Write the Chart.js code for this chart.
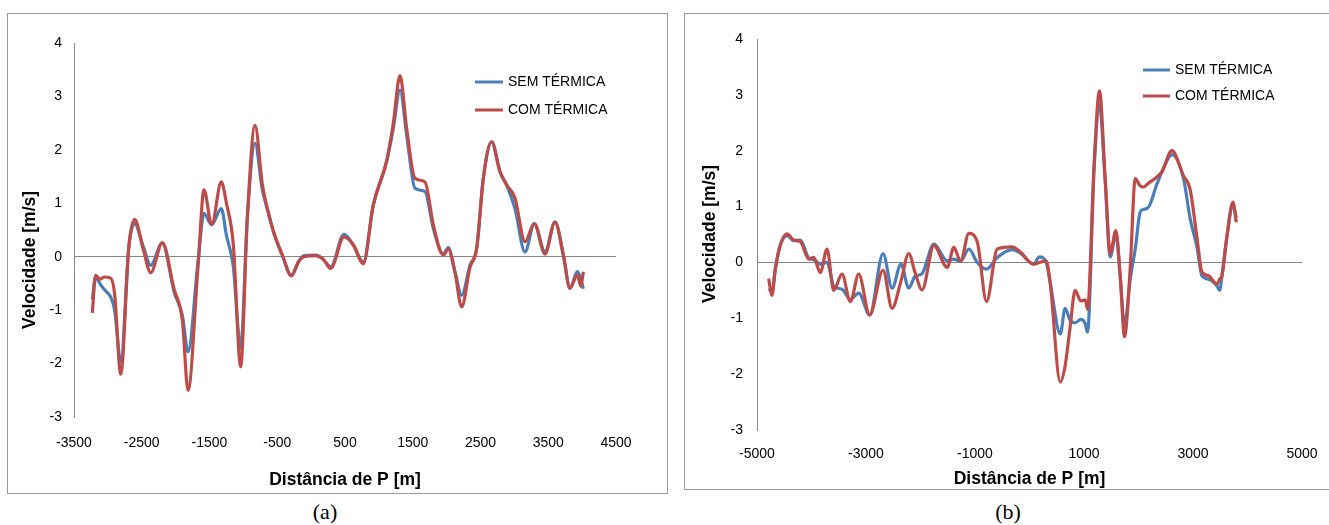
<!DOCTYPE html>
<html>
<head>
<meta charset="utf-8">
<script src="https://cdn.jsdelivr.net/npm/chart.js@4.4.0/dist/chart.umd.min.js"></script>
<style>
    body { margin: 0; background: #fff; width: 1329px; height: 525px; position: relative; overflow: hidden; }
    .box { position: absolute; border: 1px solid #9a9a9a; box-sizing: border-box; }
    canvas { position: absolute; }
    .cap { position: absolute; font-family: "Liberation Serif", "Times New Roman", serif; font-size: 22px; transform: translate(-50%, -50%); }
</style>
</head>
<body>
<div class="box" style="left:7px;top:13px;width:661px;height:481px"></div>
<div class="box" style="left:684px;top:13px;width:660px;height:477px"></div>
<canvas id="chartA" width="658" height="478" style="left:8px;top:14px"></canvas>
<canvas id="chartB" width="660" height="480" style="left:685px;top:14px"></canvas>
<div class="cap" style="left:325px;top:512px">(a)</div>
<div class="cap" style="left:1008px;top:512px">(b)</div>

<script>
const seriesNames = ['SEM TÉRMICA', 'COM TÉRMICA'];
const yTicks = [-3, -2, -1, 0, 1, 2, 3, 4];

// (a)
const xTicksA = [-3500, -2500, -1500, -500, 500, 1500, 2500, 3500, 4500];
const distA = [-3230, -3180, -3120, -3050, -2960, -2900, -2810, -2690, -2604, -2480, -2368, -2196, -2024, -1900, -1817,
    -1670, -1581, -1468, -1326, -1250, -1150, -1040, -942, -828, -720, -647, -548, -425, -292, -180, -105, 67, 180, 289,
    485, 623, 770, 918, 1115, 1213, 1312, 1410, 1533, 1681, 1803, 1951, 2025, 2124, 2222, 2345, 2444, 2542, 2665, 2788,
    2887, 3009, 3157, 3294, 3452, 3600, 3723, 3821, 3930, 3980, 4018];
const semA = [-0.80, -0.37, -0.50, -0.62, -0.75, -1.00, -1.97, 0.19, 0.62, 0.20, -0.16, 0.26, -0.65, -1.10, -1.78,
    -0.10, 0.81, 0.60, 0.90, 0.40, -0.17, -1.71, 0.72, 2.12, 1.25, 0.90, 0.44, 0.03, -0.34, -0.08, 0.02, 0.03, -0.05, -0.19,
    0.42, 0.22, -0.10, 0.97, 1.78, 2.40, 3.12, 2.28, 1.28, 1.22, 0.53, 0.05, 0.17, -0.28, -0.72, -0.16, 0.16, 1.47, 2.15, 1.59,
    1.34, 0.90, 0.09, 0.62, 0.09, 0.65, 0.03, -0.59, -0.28, -0.42, -0.60];
const comA = [-1.05, -0.35, -0.42, -0.38, -0.40, -0.70, -2.20, 0.20, 0.70, 0.15, -0.30, 0.26, -0.60, -1.20, -2.50,
    -0.20, 1.25, 0.60, 1.40, 1.00, 0.25, -2.06, 0.72, 2.46, 1.35, 0.90, 0.44, 0.03, -0.36, -0.08, 0.00, 0.02, -0.05, -0.22,
    0.37, 0.22, -0.13, 0.97, 1.80, 2.50, 3.39, 2.40, 1.47, 1.40, 0.60, 0.03, 0.14, -0.30, -0.94, -0.20, 0.16, 1.47, 2.15, 1.59,
    1.34, 1.10, 0.28, 0.62, 0.05, 0.65, 0.03, -0.59, -0.34, -0.55, -0.28];

// (b)
const xTicksB = [-5000, -3000, -1000, 1000, 3000, 5000];
const distB = [-4786, -4725, -4663, -4572, -4449, -4327, -4204, -4051, -3960, -3838, -3715, -3593, -3440, -3287, -3134,
    -2932, -2687, -2522, -2357, -2216, -2100, -1971, -1754, -1510, -1388, -1265, -1113, -959, -788, -592, -316, -172, 73,
    183, 306, 379, 565, 654, 746, 838, 942, 1024, 1064, 1187, 1284, 1389, 1481, 1585, 1667, 1743, 1848, 1940, 2031, 2092,
    2184, 2337, 2429, 2613, 2826, 2949, 3072, 3164, 3286, 3439, 3488, 3531, 3623, 3733, 3794];
const semB = [-0.47, -0.52, -0.10, 0.31, 0.48, 0.39, 0.40, 0.08, 0.05, -0.03, 0.00, -0.42, -0.48, -0.66, -0.55,
    -0.94, 0.16, -0.46, -0.03, -0.46, -0.25, -0.20, 0.33, 0.03, 0.06, 0.02, 0.24, 0.00, -0.12, 0.09, 0.23, 0.17, -0.03,
    0.10, 0.00, -0.36, -1.28, -0.82, -1.04, -1.08, -1.02, -1.10, -1.25, 1.70, 2.81, 1.45, 0.10, 0.50, -0.28, -1.13, -0.30,
    0.24, 0.90, 0.95, 0.99, 1.40, 1.62, 1.93, 1.50, 0.78, 0.28, -0.24, -0.30, -0.42, -0.50, -0.24, 0.47, 1.03, 0.80];
const comB = [-0.29, -0.59, -0.12, 0.31, 0.51, 0.40, 0.37, 0.06, 0.09, -0.18, 0.24, -0.50, -0.21, -0.70, -0.21,
    -0.94, -0.14, -0.82, -0.33, 0.16, -0.18, -0.49, 0.30, -0.09, 0.27, 0.02, 0.52, 0.37, -0.70, 0.24, 0.28, 0.19, -0.03,
    0.00, 0.03, -0.36, -2.14, -1.85, -1.15, -0.50, -0.69, -0.67, -0.84, 1.79, 3.07, 1.50, 0.16, 0.57, -0.28, -1.33, -0.10,
    1.50, 1.37, 1.35, 1.42, 1.53, 1.62, 2.00, 1.55, 1.30, 0.45, -0.17, -0.24, -0.39, -0.30, -0.24, 0.47, 1.08, 0.72];

const blue = '#4a7ebb';
const red = '#be4b48';
const fam = '"Liberation Sans", Arial, sans-serif';

// legend + rotated y title, drawn on top of the chart
const decor = {
    id: 'decor',
    afterDraw(chart, args, opts) {
        const ctx = chart.ctx;
        ctx.save();
        ctx.font = '14px ' + fam;
        ctx.textBaseline = 'middle';
        ctx.fillStyle = '#000';
        chart.data.datasets.forEach((ds, i) => {
            const y = opts.legY + i * opts.legGap;
            ctx.strokeStyle = ds.borderColor;
            ctx.lineWidth = 3;
            ctx.beginPath();
            ctx.moveTo(opts.legX, y);
            ctx.lineTo(opts.legX + opts.legLen, y);
            ctx.stroke();
            ctx.fillText(ds.label, opts.legX + opts.legLen + 5, y);
        });
        ctx.translate(opts.titleX, opts.titleY);
        ctx.rotate(-Math.PI / 2);
        ctx.textAlign = 'center';
        ctx.font = 'bold 17.5px ' + fam;
        ctx.fillText('Velocidade [m/s]', 0, 0);
        ctx.restore();
    }
};

function buildChart(id, dist, sem, com, xTicks, lay) {
    const line = { showLine: true, pointRadius: 0, borderWidth: 3.2, cubicInterpolationMode: 'monotone', fill: false };
    return new Chart(document.getElementById(id), {
        type: 'scatter',
        data: {
            datasets: [
                Object.assign({ label: seriesNames[0], data: dist.map((x, i) => ({ x: x, y: sem[i] })), borderColor: blue, order: 2 }, line),
                Object.assign({ label: seriesNames[1], data: dist.map((x, i) => ({ x: x, y: com[i] })), borderColor: red, order: 1 }, line),
            ]
        },
        options: {
            responsive: false,
            animation: false,
            devicePixelRatio: 1,
            layout: { padding: { left: 0, top: lay.top, right: lay.right, bottom: 0 } },
            plugins: {
                legend: { display: false },
                tooltip: { enabled: false },
                decor: lay.decor,
            },
            scales: {
                x: {
                    type: 'linear',
                    min: xTicks[0],
                    max: xTicks[xTicks.length - 1],
                    afterBuildTicks: s => { s.ticks = xTicks.map(v => ({ value: v })); },
                    afterFit: s => { s.height = lay.xHeight; },
                    grid: { display: false, drawTicks: false },
                    border: { display: false },
                    ticks: { color: '#000', font: { family: fam, size: 14 }, padding: lay.xPad, maxRotation: 0, autoSkip: false, callback: v => String(v) },
                    title: { display: true, text: 'Distância de P [m]', color: '#000', font: { family: fam, size: 17.5, weight: 'bold' }, padding: { top: 0, bottom: lay.titlePad } }
                },
                y: {
                    min: -3,
                    max: 4,
                    afterBuildTicks: s => { s.ticks = yTicks.map(v => ({ value: v })); },
                    afterFit: s => { s.width = lay.yWidth; },
                    grid: { drawTicks: false, lineWidth: 1, color: c => c.tick && c.tick.value === 0 ? '#868686' : 'rgba(0,0,0,0)' },
                    border: { display: true, color: '#868686', width: 1 },
                    ticks: { color: '#000', font: { family: fam, size: 14 }, padding: lay.yPad, callback: v => String(v) }
                }
            }
        },
        plugins: [decor]
    });
}

buildChart('chartA', distA, semA, comA, xTicksA, {
    top: 29, right: 50, yWidth: 66, xHeight: 75, xPad: 18, yPad: 12, titlePad: 1,
    decor: { legX: 467, legY: 68, legGap: 28, legLen: 28, titleX: 22, titleY: 246 }
});
buildChart('chartB', distB, semB, comB, xTicksB, {
    top: 25, right: 43, yWidth: 72, xHeight: 64, xPad: 16, yPad: 14, titlePad: 4,
    decor: { legX: 458, legY: 56, legGap: 26, legLen: 27, titleX: 25, titleY: 220 }
});
</script>
</body>
</html>
